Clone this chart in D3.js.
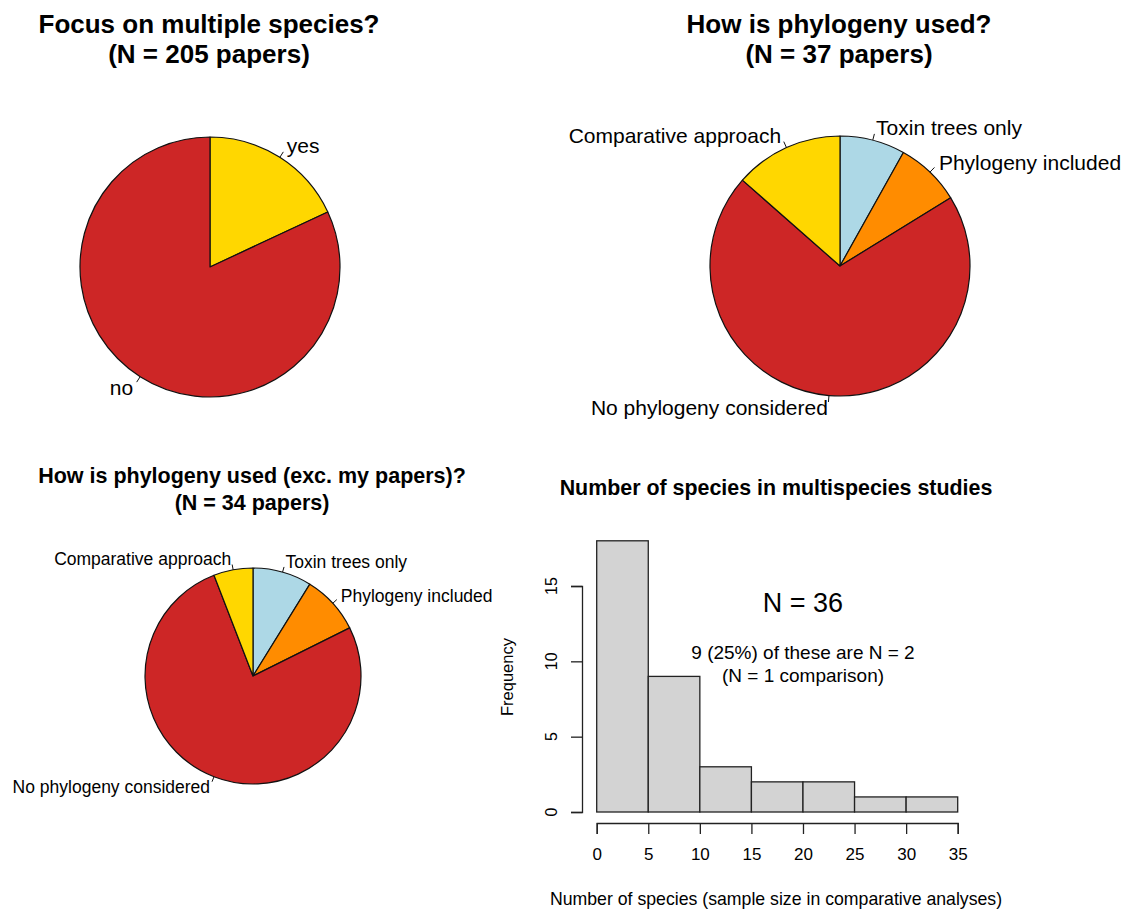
<!DOCTYPE html>
<html>
<head>
<meta charset="utf-8">
<script src="https://cdn.jsdelivr.net/npm/d3@7"></script>
<style>
	body { margin: 0; background: #fff; }
	text { font-family: "Liberation Sans", Arial, sans-serif; fill: #000; }
</style>
</head>
<body>
<svg id="chart" width="1129" height="910"></svg>
<script>
/*
	Multi-panel figure: three pies and a histogram
*/

// pie 1 - focus on multiple species
const focusLabels = ["yes", "no"];
const focusCounts = [37, 168];
const focusColors = ["#FFD700", "#CD2626"];

// pie 2 - how phylogeny is used (all papers)
const phyloLabels = ["Toxin trees only", "Phylogeny included", "No phylogeny considered", "Comparative approach"];
const phyloCounts = [3, 3, 26, 5];
const phyloColors = ["#ADD8E6", "#FF8C00", "#CD2626", "#FFD700"];

// pie 3 - same, my papers excluded
const phyloExcCounts = [3, 3, 26, 2];

// histogram
const binEdges = [0, 5, 10, 15, 20, 25, 30, 35];
const binCounts = [18, 9, 3, 2, 2, 1, 1];
const xTicks = [0, 5, 10, 15, 20, 25, 30, 35];
const yTicks = [0, 5, 10, 15];

const svg = d3.select("#chart");
svg.append("rect").attr("width", 1129).attr("height", 910).attr("fill", "#fff");

function drawTitle(lines, cx, baselines, size){
	lines.forEach((t, i) => {
		svg.append("text")
			.attr("x", cx).attr("y", baselines[i])
			.attr("text-anchor", "middle")
			.style("font-weight", "bold")
			.style("font-size", size + "px")
			.text(t);
	});
}

// R style pie: clockwise from 12 o'clock, label at 1.1r, tick from r to 1.05r
function drawPie(values, labels, colors, cx, cy, r, fontSize){
	const g = svg.append("g").attr("transform", `translate(${cx},${cy})`);
	const arcs = d3.pie().sort(null)(values);
	const arc = d3.arc().innerRadius(0).outerRadius(r);

	g.selectAll("path.slice").data(arcs).enter().append("path")
		.attr("class", "slice")
		.attr("d", arc)
		.attr("fill", (d, i) => colors[i])
		.attr("stroke", "#111")
		.attr("stroke-width", 1.2)
		.attr("stroke-linejoin", "round");

	arcs.forEach((d, i) => {
		let a = (d.startAngle + d.endAngle) / 2;
		let sx = Math.sin(a), sy = -Math.cos(a);
		g.append("line")
			.attr("x1", sx * r).attr("y1", sy * r)
			.attr("x2", sx * r * 1.05).attr("y2", sy * r * 1.05)
			.attr("stroke", "#111").attr("stroke-width", 1);
		g.append("text")
			.attr("x", sx * r * 1.1).attr("y", sy * r * 1.1)
			.attr("dy", "0.33em")
			.attr("text-anchor", sx < 0 ? "end" : "start")
			.style("font-size", fontSize + "px")
			.text(labels[i]);
	});
}

// top left
drawTitle(["Focus on multiple species?", "(N = 205 papers)"], 209, [33, 63], 26);
drawPie(focusCounts, focusLabels, focusColors, 210, 267, 130, 21);

// top right
drawTitle(["How is phylogeny used?", "(N = 37 papers)"], 839, [33, 63], 26);
drawPie(phyloCounts, phyloLabels, phyloColors, 840, 266, 130, 21);

// bottom left
drawTitle(["How is phylogeny used (exc. my papers)?", "(N = 34 papers)"], 252, [483, 510], 21.5);
drawPie(phyloExcCounts, phyloLabels, phyloColors, 253, 676, 108, 17.5);

// bottom right - histogram
drawTitle(["Number of species in multispecies studies"], 776, [495], 21.4);

const x = d3.scaleLinear().domain([0, 35]).range([596.7, 957.7]);
const y = d3.scaleLinear().domain([0, 15]).range([812, 586]);

const bins = binCounts.map((c, i) => ({x0: binEdges[i], x1: binEdges[i + 1], n: c}));
svg.append("g").selectAll("rect").data(bins).enter().append("rect")
	.attr("x", d => x(d.x0))
	.attr("y", d => y(d.n))
	.attr("width", d => x(d.x1) - x(d.x0))
	.attr("height", d => y(0) - y(d.n))
	.attr("fill", "#D3D3D3")
	.attr("stroke", "#222")
	.attr("stroke-width", 1.3);

// x axis, offset below the bars like base R
const xAxis = svg.append("g")
	.attr("transform", "translate(0,823)")
	.call(d3.axisBottom(x).tickValues(xTicks).tickSize(11).tickPadding(14).tickFormat(d3.format("d")));
xAxis.select(".domain").attr("stroke", "#222").attr("stroke-width", 1.3);
xAxis.selectAll(".tick line").attr("stroke", "#222").attr("stroke-width", 1.3);
xAxis.selectAll("text").style("font-size", "17px").style("font-family", "Liberation Sans, Arial, sans-serif").attr("fill", "#000");

// y axis, labels parallel to the axis
const yAxis = svg.append("g")
	.attr("transform", "translate(582,0)")
	.call(d3.axisLeft(y).tickValues(yTicks).tickSize(11).tickFormat(""));
yAxis.select(".domain").attr("stroke", "#222").attr("stroke-width", 1.3);
yAxis.selectAll(".tick line").attr("stroke", "#222").attr("stroke-width", 1.3);
yTicks.forEach(t => {
	svg.append("text")
		.attr("transform", `translate(557,${y(t)}) rotate(-90)`)
		.attr("text-anchor", "middle")
		.style("font-size", "16px")
		.text(t);
});

svg.append("text")
	.attr("transform", "translate(513,677) rotate(-90)")
	.attr("text-anchor", "middle")
	.style("font-size", "16.5px")
	.text("Frequency");

svg.append("text")
	.attr("x", 776).attr("y", 905)
	.attr("text-anchor", "middle")
	.style("font-size", "17.7px")
	.text("Number of species (sample size in comparative analyses)");

// annotations placed in data coordinates
svg.append("text")
	.attr("x", x(20)).attr("y", y(13.9))
	.attr("dy", "0.36em")
	.attr("text-anchor", "middle")
	.style("font-size", "27px")
	.text("N = 36");

svg.append("text")
	.attr("x", x(20)).attr("y", y(10.6))
	.attr("dy", "0.36em")
	.attr("text-anchor", "middle")
	.style("font-size", "19px")
	.text("9 (25%) of these are N = 2");

svg.append("text")
	.attr("x", x(20)).attr("y", y(9.1))
	.attr("dy", "0.36em")
	.attr("text-anchor", "middle")
	.style("font-size", "19px")
	.text("(N = 1 comparison)");
</script>
</body>
</html>
